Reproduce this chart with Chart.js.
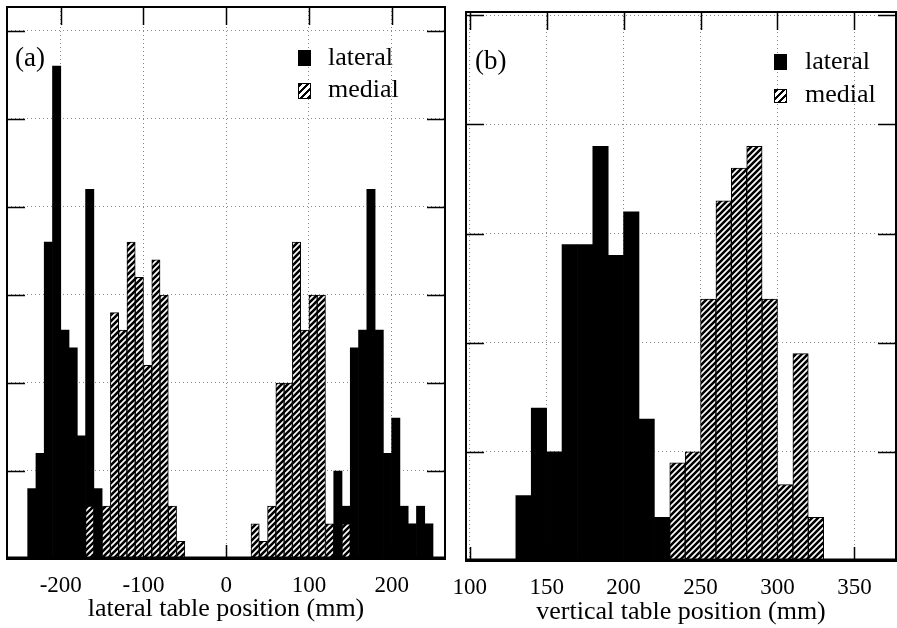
<!DOCTYPE html>
<html>
<head>
<meta charset="utf-8">
<script src="https://cdn.jsdelivr.net/npm/chart.js@4.4.0/dist/chart.umd.min.js"></script>
<style>
    html, body { margin: 0; padding: 0; background: #fff; }
    #wrap { position: relative; width: 897px; height: 628px; overflow: hidden; font-family: 'Liberation Serif', 'Times New Roman', serif; color: #000; }
    canvas { position: absolute; top: 0; }
    #chart-a { left: 0; }
    #chart-b { left: 436px; }
    .tag { position: absolute; font-size: 27px; line-height: 27px; white-space: nowrap; }
    .leg { position: absolute; font-size: 26px; line-height: 26px; white-space: nowrap; }
    .sw { position: absolute; width: 13px; height: 16px; box-sizing: border-box; }
    .solid { background: #000; }
    .hatch { border: 1.5px solid #000; background: repeating-linear-gradient(135deg, #000 0 2.5px, #fff 2.5px 5px); }
</style>
</head>
<body>
<div id="wrap">
    <canvas id="chart-a" width="452" height="628"></canvas>
    <canvas id="chart-b" width="461" height="628"></canvas>

    <div class="tag" style="left:15px; top:44px;">(a)</div>
    <div class="sw solid" style="left:298px; top:50px;"></div>
    <div class="leg" style="left:328px; top:44px;">lateral</div>
    <div class="sw hatch" style="left:298px; top:83px;"></div>
    <div class="leg" style="left:328px; top:76px;">medial</div>

    <div class="tag" style="left:475px; top:47px;">(b)</div>
    <div class="sw solid" style="left:774px; top:54px;"></div>
    <div class="leg" style="left:805px; top:48px;">lateral</div>
    <div class="sw hatch" style="left:774px; top:89px; height:14px;"></div>
    <div class="leg" style="left:805px; top:81px;">medial</div>
</div>
<script>
// --- datos (a): posición lateral de la mesa, bins de 10 mm ---
const aLateralBins = [-235, -225, -215, -205, -195, -185, -175, -165, -155,
    135, 145, 155, 165, 175, 185, 195, 205, 215, 225, 235, 245];
const aLateralCounts = [4, 6, 18, 28, 13, 12, 7, 21, 4,
    5, 3, 12, 13, 21, 13, 6, 8, 3, 2, 3, 2];
const aMedialBins = [-165, -155, -145, -135, -125, -115, -105, -95, -85, -75, -65, -55,
    35, 45, 55, 65, 75, 85, 95, 105, 115, 125, 135, 145];
const aMedialCounts = [3, 0, 3, 14, 13, 18, 16, 11, 17, 15, 3, 1,
    2, 1, 3, 10, 10, 18, 13, 15, 15, 2, 0, 2];

// --- datos (b): posición vertical de la mesa ---
const bLateralBins = [135, 145, 155, 165, 175, 185, 195, 205, 215, 225];
const bLateralCounts = [6, 14, 10, 29, 29, 38, 28, 32, 13, 4];
const bMedialBins = [235, 245, 255, 265, 275, 285, 295, 305, 315, 325];
const bMedialCounts = [9, 10, 24, 33, 36, 38, 24, 7, 19, 4];

const SERIF = "'Liberation Serif', 'Times New Roman', serif";
Chart.defaults.font.family = SERIF;
Chart.defaults.color = '#000';

const makeHatch = (size, width) => {
    const c = document.createElement('canvas');
    c.width = size; c.height = size;
    const g = c.getContext('2d');
    g.fillStyle = '#fff';
    g.fillRect(0, 0, size, size);
    g.strokeStyle = '#000';
    g.lineWidth = width;
    g.beginPath();
    g.moveTo(0, size); g.lineTo(size, 0);
    g.moveTo(-size / 2, size / 2); g.lineTo(size / 2, -size / 2);
    g.moveTo(size / 2, size * 1.5); g.lineTo(size * 1.5, size / 2);
    g.stroke();
    return g.createPattern(c, 'repeat');
};

// marco con marcas hacia dentro, como en el original
const framePlugin = {
    id: 'frame',
    beforeDatasetsDraw(chart) {
        const { ctx, chartArea: a, scales: { x, y } } = chart;
        ctx.save();
        ctx.strokeStyle = '#000';
        ctx.lineWidth = 1.5;
        ctx.beginPath();
        x.ticks.forEach(t => {
            const px = Math.round(x.getPixelForValue(t.value)) + 0.5;
            ctx.moveTo(px, a.top); ctx.lineTo(px, a.top + 18);
            ctx.moveTo(px, a.bottom); ctx.lineTo(px, a.bottom - 14);
        });
        y.ticks.forEach(t => {
            if (t.value === 0) return;
            const py = Math.round(y.getPixelForValue(t.value)) + 0.5;
            ctx.moveTo(a.left, py); ctx.lineTo(a.left + 18, py);
            ctx.moveTo(a.right, py); ctx.lineTo(a.right - 18, py);
        });
        ctx.stroke();
        ctx.restore();
    },
    afterDatasetsDraw(chart) {
        const { ctx, chartArea: a } = chart;
        ctx.save();
        ctx.strokeStyle = '#000';
        ctx.lineWidth = 2;
        ctx.strokeRect(a.left, a.top, a.right - a.left, a.bottom - a.top);
        ctx.lineWidth = 3;
        ctx.beginPath();
        ctx.moveTo(a.left, a.bottom - 1); ctx.lineTo(a.right, a.bottom - 1);
        ctx.stroke();
        ctx.restore();
    }
};

const toPoints = (bins, counts) => bins.map((b, i) => ({ x: b, y: counts[i] }));

const buildChart = (id, cfg) => new Chart(document.getElementById(id), {
    type: 'bar',
    data: {
        datasets: [
            {
                label: 'lateral', data: toPoints(cfg.latBins, cfg.latCounts),
                backgroundColor: '#000', borderWidth: 0,
                grouped: false, order: 2, categoryPercentage: 1, barPercentage: 1
            },
            {
                label: 'medial', data: toPoints(cfg.medBins, cfg.medCounts),
                backgroundColor: cfg.hatch, borderColor: '#000', borderWidth: 1,
                grouped: false, order: 1, categoryPercentage: 1, barPercentage: 1
            }
        ]
    },
    options: {
        responsive: false,
        animation: false,
        events: [],
        layout: { padding: cfg.padding },
        plugins: { legend: { display: false }, tooltip: { enabled: false } },
        scales: {
            x: {
                type: 'linear',
                offset: false,
                min: cfg.xMin, max: cfg.xMax,
                ticks: { stepSize: cfg.xStep, includeBounds: false, autoSkip: false, maxRotation: 0,
                    padding: 13, font: { family: SERIF, size: 23 }, color: '#000' },
                grid: { color: '#8a8a8a', lineWidth: 1, drawTicks: false, offset: false },
                border: { display: false, dash: [1, 3] },
                title: { display: true, text: cfg.xTitle, padding: 0,
                    font: { family: SERIF, size: 26 }, color: '#000' },
                afterFit: s => { s.height = cfg.axisHeight; }
            },
            y: {
                min: 0, max: cfg.yMax,
                ticks: { display: false, stepSize: cfg.yStep, includeBounds: false },
                grid: { color: '#8a8a8a', lineWidth: 1, drawTicks: false },
                border: { display: false, dash: [1, 3] },
                afterFit: s => { s.width = 0; }
            }
        }
    },
    plugins: [framePlugin]
});

buildChart('chart-a', {
    latBins: aLateralBins, latCounts: aLateralCounts,
    medBins: aMedialBins, medCounts: aMedialCounts,
    hatch: makeHatch(6, 2.6),
    xMin: -265, xMax: 264.5, xStep: 100,
    yMax: 31.36, yStep: 5,
    xTitle: 'lateral table position (mm)',
    padding: { left: 7, right: 7, top: 7, bottom: 3 },
    axisHeight: 66
});

buildChart('chart-b', {
    latBins: bLateralBins, latCounts: bLateralCounts,
    medBins: bMedialBins, medCounts: bMedialCounts,
    hatch: makeHatch(6, 2.6),
    xMin: 97.6, xMax: 377, xStep: 50,
    yMax: 50.3, yStep: 10,
    xTitle: 'vertical table position (mm)',
    padding: { left: 30, right: 1, top: 12, bottom: 0 },
    axisHeight: 67
});
</script>
</body>
</html>
